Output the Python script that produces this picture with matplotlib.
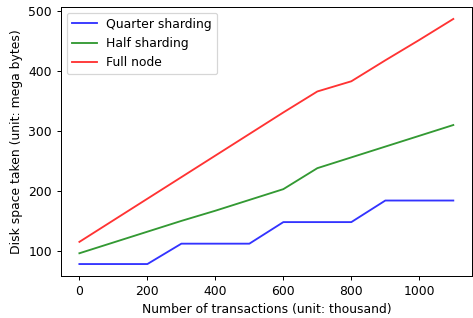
import matplotlib
matplotlib.use("Agg")
import matplotlib.pyplot as plt
from matplotlib.ticker import MultipleLocator

transactions = [0, 100, 200, 300, 400, 500, 600, 700, 800, 900, 1000, 1100]
quarter = [78, 78, 78, 112, 112, 112, 148, 148, 148, 184, 184, 184]
half = [96, 114, 132, 150, 167, 185, 203, 238, 256, 274, 292, 310]
full = [115, 151, 187, 223, 259, 295, 331, 366, 383, 418, 452, 487]

DPI = 89
fig = plt.figure(figsize=(473/DPI, 318/DPI), dpi=DPI)
ax = fig.add_axes([60.7/473, (318-276.3)/318, (472-60.7)/473, (276.3-6.7)/318])
ax.plot(transactions, quarter, color="blue", alpha=0.8, label="Quarter sharding")
ax.plot(transactions, half, color="green", alpha=0.8, label="Half sharding")
ax.plot(transactions, full, color="red", alpha=0.8, label="Full node")
ax.yaxis.set_major_locator(MultipleLocator(100))
ax.set_xlabel("Number of transactions (unit: thousand)")
ax.set_ylabel("Disk space taken (unit: mega bytes)")
ax.legend(loc="upper left")
fig.savefig("out.png", dpi=DPI)
